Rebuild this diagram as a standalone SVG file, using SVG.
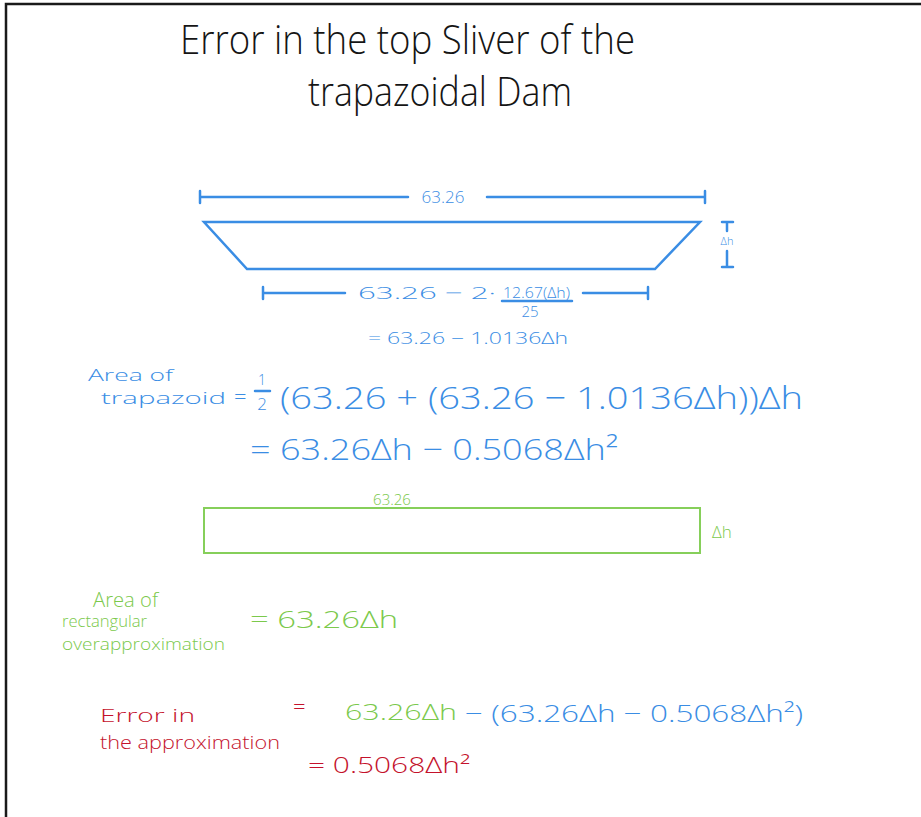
<svg xmlns="http://www.w3.org/2000/svg" width="921" height="817" viewBox="0 0 921 817">
<style>
text{font-family:"Open Sans","DejaVu Sans",sans-serif;font-weight:300}
.k{fill:#151515}
.b{fill:#3a8de4}
.g{fill:#7bc94c}
.r{fill:#c4122c}
.sb{stroke:#3a8de4;stroke-width:2.5;fill:none;stroke-linecap:round}
.sg{stroke:#86cf5a;stroke-width:2;fill:none}
</style>
<rect width="921" height="817" fill="#fff"/>
<path d="M6,817 V4 H921" stroke="#1a1a1a" stroke-width="2.5" fill="none"/>
<g id="title">
<text class="k" x="180" y="54" font-size="40" textLength="455" lengthAdjust="spacingAndGlyphs">Error in the top Sliver of the</text>
<text class="k" x="308" y="106" font-size="40" textLength="264" lengthAdjust="spacingAndGlyphs">trapazoidal Dam</text>
</g>
<g id="top-dimension">
<path class="sb" d="M200,197 H408 M487,197 H705 M200,191 V203 M705,191 V203"/>
<text class="b" x="443" y="203" font-size="17" text-anchor="middle">63.26</text>
</g>
<g id="trapezoid">
<polygon class="sb" points="204,222 700,222 655,269 247,269"/>
</g>
<g id="dh-marker">
<path class="sb" stroke-width="2" d="M722,222 H733 M727,222 V231 M727,251 V267 M722,267 H733"/>
<text class="b" x="727" y="245" font-size="11" text-anchor="middle">Δh</text>
</g>
<g id="bottom-dimension">
<path class="sb" d="M263,293 H345 M583,293 H648 M263,287 V299 M648,287 V299"/>
<text class="b" x="358" y="299" font-size="17" textLength="138" lengthAdjust="spacingAndGlyphs">63.26 − 2·</text>
<text class="b" x="503" y="298" font-size="14" textLength="67" lengthAdjust="spacingAndGlyphs">12.67(Δh)</text>
<path class="sb" stroke-width="1.8" d="M502,301 H572"/>
<text class="b" x="530" y="317" font-size="15" text-anchor="middle">25</text>
<text class="b" x="368" y="344" font-size="16" textLength="200" lengthAdjust="spacingAndGlyphs">= 63.26 − 1.0136Δh</text>
</g>
<g id="area-trapezoid">
<text class="b" x="88" y="381" font-size="16" textLength="85" lengthAdjust="spacingAndGlyphs">Area of</text>
<text class="b" x="101" y="404" font-size="17" textLength="125" lengthAdjust="spacingAndGlyphs">trapazoid</text>
<text class="b" x="234" y="404" font-size="22">=</text>
<text class="b" x="262" y="385" font-size="14" text-anchor="middle">1</text>
<path class="sb" stroke-width="2" d="M255,391 H270"/>
<text class="b" x="262" y="410" font-size="17" text-anchor="middle">2</text>
<text class="b" x="280" y="409" font-size="32" textLength="523" lengthAdjust="spacingAndGlyphs">(63.26 + (63.26 − 1.0136Δh))Δh</text>
<text class="b" x="250" y="460" font-size="30" textLength="368" lengthAdjust="spacingAndGlyphs">= 63.26Δh − 0.5068Δh²</text>
</g>
<g id="rectangle">
<rect class="sg" x="204" y="508" width="496" height="45"/>
<text class="g" x="392" y="505" font-size="15" text-anchor="middle">63.26</text>
<text class="g" x="712" y="538" font-size="17">Δh</text>
</g>
<g id="area-rectangle">
<text class="g" x="93" y="607" font-size="20" textLength="65" lengthAdjust="spacingAndGlyphs">Area of</text>
<text class="g" x="62" y="627" font-size="16" textLength="85" lengthAdjust="spacingAndGlyphs">rectangular</text>
<text class="g" x="62" y="650" font-size="16" textLength="163" lengthAdjust="spacingAndGlyphs">overapproximation</text>
<text class="g" x="250" y="628" font-size="24" textLength="148" lengthAdjust="spacingAndGlyphs">= 63.26Δh</text>
</g>
<g id="error">
<text class="r" x="100" y="722" font-size="18" textLength="95" lengthAdjust="spacingAndGlyphs">Error in</text>
<text class="r" x="100" y="749" font-size="18" textLength="180" lengthAdjust="spacingAndGlyphs">the approximation</text>
<text class="r" x="293" y="714" font-size="22">=</text>
<text class="g" x="345" y="720" font-size="22" textLength="112" lengthAdjust="spacingAndGlyphs">63.26Δh</text>
<text class="b" x="465" y="722" font-size="24" textLength="338" lengthAdjust="spacingAndGlyphs">− (63.26Δh − 0.5068Δh²)</text>
<text class="r" x="308" y="773" font-size="22" textLength="162" lengthAdjust="spacingAndGlyphs">= 0.5068Δh²</text>
</g>
</svg>
